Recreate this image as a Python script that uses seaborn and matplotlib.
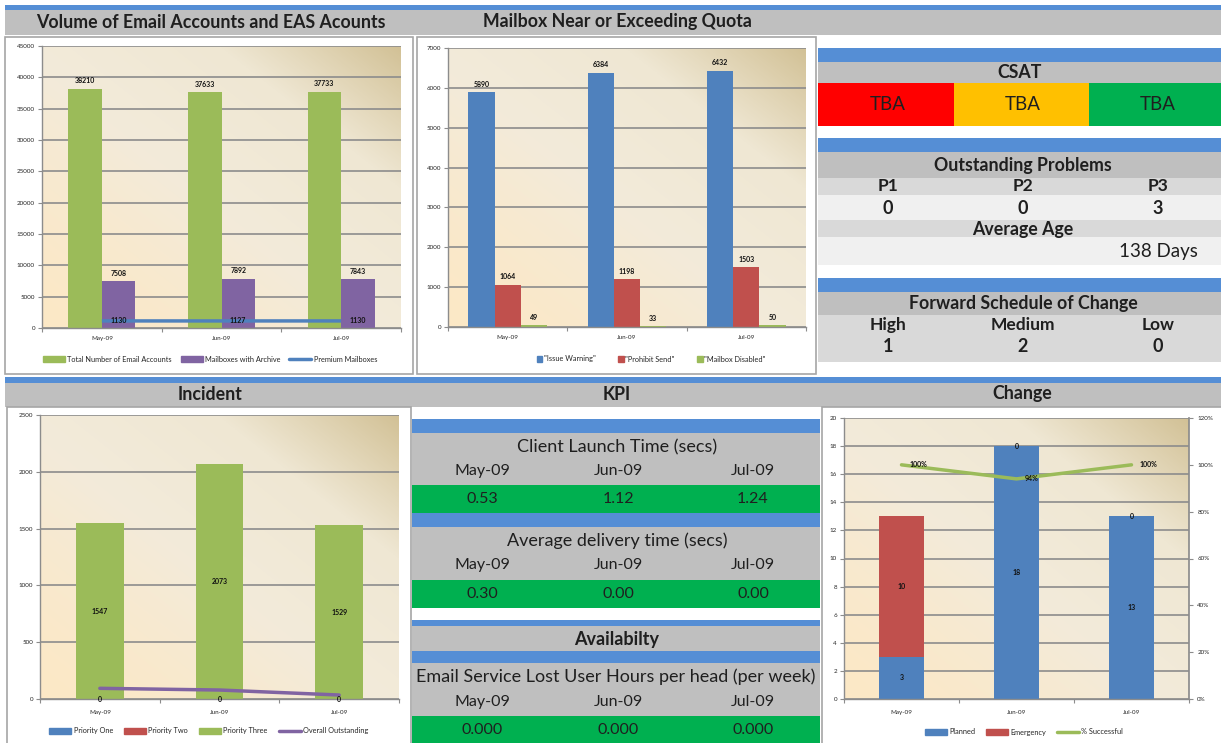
import numpy as np
import pandas as pd
import matplotlib
matplotlib.use("Agg")
import matplotlib.pyplot as plt
import seaborn as sns
from matplotlib.patches import Rectangle, Patch
from matplotlib.lines import Line2D
from matplotlib.colors import LinearSegmentedColormap
from matplotlib.ticker import PercentFormatter

# ---------------- data ----------------
months = ["May-09", "Jun-09", "Jul-09"]

vol_series = ["Total Number of Email Accounts", "Mailboxes with Archive", "Premium Mailboxes"]
total_accounts = [38210, 37633, 37733]
archive_mailboxes = [7508, 7892, 7843]
premium_mailboxes = [1130, 1127, 1130]

quota_series = ['"Issue Warning"', '"Prohibit Send"', '"Mailbox Disabled"']
issue_warning = [5890, 6384, 6432]
prohibit_send = [1064, 1198, 1503]
mailbox_disabled = [49, 33, 50]

incident_series = ["Priority One", "Priority Two", "Priority Three", "Overall Outstanding"]
priority_one = [0, 0, 0]
priority_two = [0, 0, 0]
priority_three = [1547, 2073, 1529]
overall_outstanding = [94, 79, 35]

change_series = ["Planned", "Emergency", "% Successful"]
planned = [3, 18, 13]
emergency = [10, 0, 0]
pct_successful = [1.00, 0.94, 1.00]

csat_values = ["TBA", "TBA", "TBA"]
problem_labels = ["P1", "P2", "P3"]
problem_counts = [0, 0, 3]
average_age = "138 Days"
fsc_labels = ["High", "Medium", "Low"]
fsc_counts = [1, 2, 0]

kpi_months = ["May-09", "Jun-09", "Jul-09"]
client_launch = [0.53, 1.12, 1.24]
avg_delivery = [0.30, 0.00, 0.00]
lost_hours = [0.000, 0.000, 0.000]

# ---------------- style ----------------
W, H = 1221, 743
sns.set_theme(style="white")
plt.rcParams['font.family'] = ['Lato', 'DejaVu Sans']

C_GREEN = '#9BBB59'
C_PURPLE = '#8064A2'
C_BLUE = '#4F81BD'
C_RED = '#C0504D'
STRIP = '#558ED5'
GRAY = '#BFBFBF'
LGRAY = '#D9D9D9'
VLGRAY = '#F0F0F0'
TXT = '#1F1F1F'
HDR = 12.8

fig = plt.figure(figsize=(W / 100, H / 100), dpi=100)
bg = fig.add_axes([0, 0, 1, 1])
bg.set_xlim(0, W)
bg.set_ylim(H, 0)
bg.axis('off')


def rect(x0, y0, x1, y1, color, ec='none', lw=0):
    bg.add_patch(Rectangle((x0, y0), x1 - x0, y1 - y0, facecolor=color,
                           edgecolor=ec, linewidth=lw))


def txt(x, y, s, size=11, weight='normal', ha='center', color=TXT):
    bg.text(x, y, s, fontsize=size, fontweight=weight, ha=ha, va='center', color=color)


def px_axes(x0, y0, x1, y1):
    return fig.add_axes([x0 / W, 1 - y1 / H, (x1 - x0) / W, (y1 - y0) / H])


# ---------------- dashboard frame ----------------
rect(5, 5, W, 10, STRIP)
rect(5, 10, W, 35, GRAY)
txt(211, 22, "Volume of Email Accounts and EAS Acounts", HDR, 'bold')
txt(617, 22, "Mailbox Near or Exceeding Quota", HDR, 'bold')

rect(5, 37, 413, 374, 'white', ec='#A6A6A6', lw=1.2)
rect(417, 37, 816, 374, 'white', ec='#A6A6A6', lw=1.2)

# right panel
cx = [888, 1023, 1158]
rect(818, 48, W, 62, STRIP)
rect(818, 62, W, 83, GRAY)
txt(1020, 72, "CSAT", HDR, 'bold')
for (a, b), col, v, x in zip([(818, 954), (954, 1089), (1089, W)],
                             ['#FF0000', '#FFC000', '#00B050'], csat_values, cx):
    rect(a, 83, b, 126, col)
    txt(x, 104, v, 13.5)
rect(818, 138, W, 152, STRIP)
rect(818, 152, W, 178, GRAY)
txt(1023, 165, "Outstanding Problems", HDR, 'bold')
rect(818, 178, W, 195, LGRAY)
rect(818, 195, W, 220, VLGRAY)
for x, lab, v in zip(cx, problem_labels, problem_counts):
    txt(x, 186, lab, 12.5, 'bold')
    txt(x, 208, str(v), 13, 'bold')
rect(818, 220, W, 237, LGRAY)
txt(1023, 229, "Average Age", HDR, 'bold')
rect(818, 237, W, 265, VLGRAY)
txt(1158, 251, average_age, 13.5)
rect(818, 278, W, 292, STRIP)
rect(818, 292, W, 315, GRAY)
txt(1023, 304, "Forward Schedule of Change", HDR, 'bold')
rect(818, 315, W, 362, LGRAY)
for x, lab, v in zip(cx, fsc_labels, fsc_counts):
    txt(x, 325, lab, 12.5, 'bold')
    txt(x, 347, str(v), 13, 'bold')

# middle strip
rect(5, 377, W, 383, STRIP)
rect(5, 383, W, 407, GRAY)
txt(210, 394, "Incident", HDR, 'bold')
txt(617, 394, "KPI", HDR, 'bold')
txt(1022, 394, "Change", HDR, 'bold')

rect(7, 407, 411, 746, 'white', ec='#A6A6A6', lw=1.2)
rect(822, 407, 1224, 746, 'white', ec='#A6A6A6', lw=1.2)

# KPI block
kx0, kx1 = 412, 820
kcols = [482, 618, 753]
KGREEN = '#00B050'
KT = 13
KM = 11.5
rect(kx0, 419, kx1, 433, STRIP)
rect(kx0, 433, kx1, 485, GRAY)
txt(617, 447, "Client Launch Time (secs)", KT)
rect(kx0, 485, kx1, 513, KGREEN)
for x, m, v in zip(kcols, kpi_months, client_launch):
    txt(x, 471, m, KM)
    txt(x, 499, f"{v:.2f}", KM)
rect(kx0, 513, kx1, 527, STRIP)
rect(kx0, 527, kx1, 580, GRAY)
txt(617, 541, "Average delivery time (secs)", KT)
rect(kx0, 580, kx1, 608, KGREEN)
for x, m, v in zip(kcols, kpi_months, avg_delivery):
    txt(x, 565, m, KM)
    txt(x, 594, f"{v:.2f}", KM)
rect(kx0, 620, kx1, 626, STRIP)
rect(kx0, 626, kx1, 651, GRAY)
txt(617, 639, "Availabilty", KT, 'bold')
rect(kx0, 651, kx1, 663, STRIP)
rect(kx0, 663, kx1, 716, GRAY)
txt(616, 677, "Email Service Lost User Hours per head (per week)", KT)
rect(kx0, 716, kx1, 743, KGREEN)
for x, m, v in zip(kcols, kpi_months, lost_hours):
    txt(x, 702, m, KM)
    txt(x, 730, f"{v:.3f}", KM)

# ---------------- chart helpers ----------------
cmap = LinearSegmentedColormap.from_list('g', ['#FCE8C6', '#F3EBDA', '#EFE7D3', '#D2C196'])


def gradient(ax):
    n = 200
    xx, yy = np.meshgrid(np.linspace(0, 1, n), np.linspace(0, 1, n))
    t = np.clip(xx * 0.5 + yy * 0.5, 0, 1) ** 1.4
    ax.imshow(t, cmap=cmap, extent=[0, 1, 0, 1], transform=ax.transAxes,
              origin='lower', aspect='auto', zorder=0, interpolation='bilinear')


def finish(ax, ymax, step, xpad=6):
    gradient(ax)
    ax.set_xlim(-0.5, 2.5)
    ax.set_ylim(0, ymax)
    ax.set_yticks(np.arange(0, ymax + step * 0.5, step))
    ax.set_xticks([0, 1, 2])
    ax.set_xticklabels(months)
    ax.set_xlabel('')
    ax.set_ylabel('')
    ax.grid(axis='y', color='#8C8C8C', linewidth=1.2)
    ax.grid(axis='x', visible=False)
    ax.set_axisbelow(True)
    for s in ['top', 'right']:
        ax.spines[s].set_visible(False)
    for s in ['left', 'bottom']:
        ax.spines[s].set_color('#8C8C8C')
        ax.spines[s].set_linewidth(1.0)
    ax.tick_params(axis='y', which='major', left=True, direction='out', length=3,
                   width=0.8, color='#8C8C8C', labelsize=4.5, pad=2)
    ax.tick_params(axis='x', which='major', length=0, labelsize=4.5, pad=xpad)
    ax.set_xticks([-0.5, 0.5, 1.5, 2.5], minor=True)
    ax.tick_params(axis='x', which='minor', bottom=True, direction='out', length=3,
                   width=0.8, color='#8C8C8C')


LBL = dict(fontsize=5, color='#111111', fontweight='bold')
LEG = 5.3

# ---------------- chart 1: volume ----------------
ax1 = px_axes(42, 46, 401, 328)
df1 = pd.DataFrame({
    'month': months * 2,
    'series': [vol_series[0]] * 3 + [vol_series[1]] * 3,
    'value': total_accounts + archive_mailboxes,
})
sns.barplot(data=df1, x='month', y='value', hue='series', palette=[C_GREEN, C_PURPLE],
            width=0.56, saturation=1, legend=False, ax=ax1, zorder=2, linewidth=0)
for c in ax1.containers:
    ax1.bar_label(c, padding=3, **LBL)
ax1.plot(range(3), premium_mailboxes, color=C_BLUE, lw=2.5, zorder=3, solid_capstyle='butt')
for i, v in enumerate(premium_mailboxes):
    ax1.text(i + 0.07, v, str(v), ha='left', va='center', zorder=4, **LBL)
finish(ax1, 45000, 5000)
fig.legend(handles=[Patch(color=C_GREEN), Patch(color=C_PURPLE), Line2D([], [], color=C_BLUE, lw=2.5)],
           labels=vol_series, loc='center', bbox_to_anchor=(210 / W, 1 - 359 / H), ncol=3,
           frameon=False, fontsize=LEG, handlelength=3, handleheight=0.8, columnspacing=1.2,
           handletextpad=0.3)

# ---------------- chart 2: quota ----------------
ax2 = px_axes(448, 48, 806, 327)
df2 = pd.DataFrame({
    'month': months * 3,
    'series': [quota_series[0]] * 3 + [quota_series[1]] * 3 + [quota_series[2]] * 3,
    'value': issue_warning + prohibit_send + mailbox_disabled,
})
sns.barplot(data=df2, x='month', y='value', hue='series', palette=[C_BLUE, C_RED, C_GREEN],
            width=0.66, saturation=1, legend=False, ax=ax2, zorder=2, linewidth=0)
for c in ax2.containers:
    ax2.bar_label(c, padding=3, **LBL)
finish(ax2, 7000, 1000)
fig.legend(handles=[Patch(color=C_BLUE), Patch(color=C_RED), Patch(color=C_GREEN)],
           labels=quota_series, loc='center', bbox_to_anchor=(651 / W, 1 - 359 / H), ncol=3,
           frameon=False, fontsize=LEG, handlelength=0.8, handleheight=0.8, columnspacing=3.0,
           handletextpad=0.2)

# ---------------- chart 3: incident ----------------
ax3 = px_axes(40, 415, 399, 699)
inc_total = [a + b + c for a, b, c in zip(priority_one, priority_two, priority_three)]
inc_12 = [a + b for a, b in zip(priority_one, priority_two)]
sns.barplot(x=months, y=inc_total, color=C_GREEN, saturation=1, width=0.4, ax=ax3, zorder=2, linewidth=0)
sns.barplot(x=months, y=inc_12, color=C_RED, saturation=1, width=0.4, ax=ax3, zorder=2, linewidth=0)
sns.barplot(x=months, y=priority_one, color=C_BLUE, saturation=1, width=0.4, ax=ax3, zorder=2, linewidth=0)
ax3.plot(range(3), overall_outstanding, color=C_PURPLE, lw=2.5, zorder=3)
for i in range(3):
    ax3.text(i, inc_12[i] + priority_three[i] / 2, str(priority_three[i]), ha='center', va='center', zorder=4, **LBL)
    ax3.text(i, 0, str(priority_one[i]), ha='center', va='center', zorder=4, **LBL)
finish(ax3, 2500, 500, xpad=8)
fig.legend(handles=[Patch(color=C_BLUE), Patch(color=C_RED), Patch(color=C_GREEN),
                    Line2D([], [], color=C_PURPLE, lw=2.5)],
           labels=incident_series, loc='center', bbox_to_anchor=(209 / W, 1 - 731 / H), ncol=4,
           frameon=False, fontsize=LEG, handlelength=3, handleheight=0.8, columnspacing=1.5,
           handletextpad=0.3)

# ---------------- chart 4: change ----------------
ax4 = px_axes(844, 418, 1189, 699)
chg_total = [a + b for a, b in zip(planned, emergency)]
sns.barplot(x=months, y=chg_total, color=C_RED, saturation=1, width=0.39, ax=ax4, zorder=2, linewidth=0)
sns.barplot(x=months, y=planned, color=C_BLUE, saturation=1, width=0.39, ax=ax4, zorder=2, linewidth=0)
for i in range(3):
    ax4.text(i, planned[i] / 2, str(planned[i]), ha='center', va='center', zorder=4, **LBL)
    ax4.text(i, planned[i] + emergency[i] / 2 if emergency[i] else planned[i], str(emergency[i]),
             ha='center', va='center', zorder=4, **LBL)
finish(ax4, 20, 2, xpad=8)
ax4r = ax4.twinx()
ax4r.plot(range(3), pct_successful, color=C_GREEN, lw=2.5, zorder=3)
for i, v in enumerate(pct_successful):
    ax4r.text(i + 0.07, v, f"{v:.0%}", ha='left', va='center', **LBL)
ax4r.set_ylim(0, 1.2)
ax4r.set_yticks(np.arange(0, 1.21, 0.2))
ax4r.yaxis.set_major_formatter(PercentFormatter(1.0, decimals=0))
ax4r.grid(False)
for s in ['top', 'left', 'bottom']:
    ax4r.spines[s].set_visible(False)
ax4r.spines['right'].set_color('#8C8C8C')
ax4r.tick_params(axis='y', right=True, direction='out', length=3, width=0.8, color='#8C8C8C',
                 labelsize=4.5, pad=3)
fig.legend(handles=[Patch(color=C_BLUE), Patch(color=C_RED), Line2D([], [], color=C_GREEN, lw=2.5)],
           labels=change_series, loc='center', bbox_to_anchor=(1024 / W, 1 - 732 / H), ncol=3,
           frameon=False, fontsize=LEG, handlelength=3, handleheight=0.8, columnspacing=1.5,
           handletextpad=0.3)

fig.savefig("out.png", dpi=100)
